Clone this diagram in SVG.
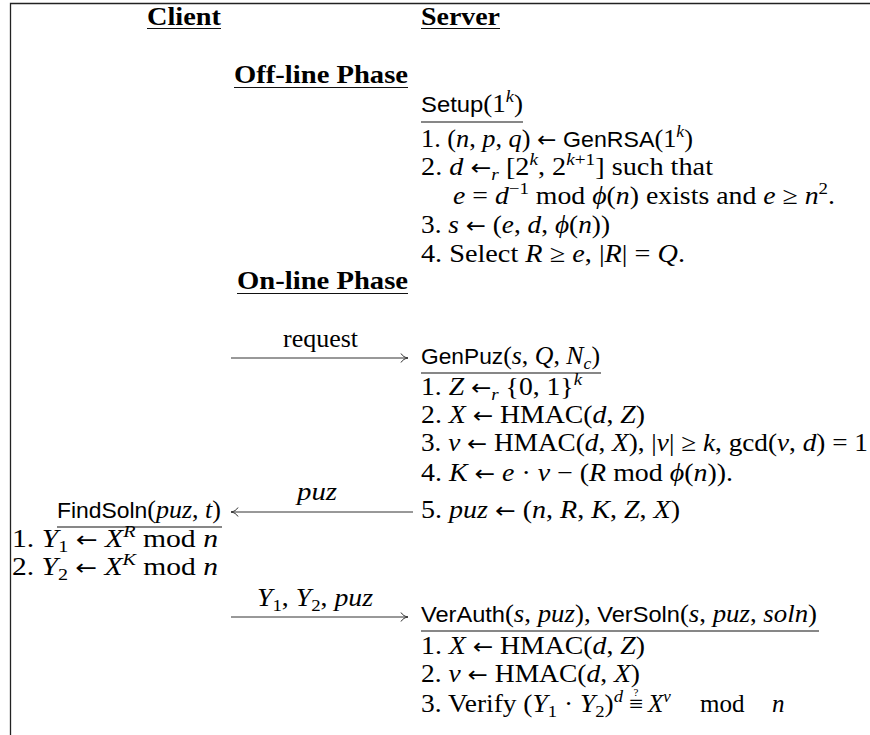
<svg xmlns="http://www.w3.org/2000/svg" width="870" height="735" viewBox="0 0 870 735">
<style>
text { font-family: "Liberation Serif", "DejaVu Serif", serif; font-size: 25px; fill: #000; }
.h { font-weight: bold; }
.i { font-style: italic; }
.sf { font-family: "Liberation Sans", "DejaVu Sans", sans-serif; font-size: 22px; font-style: normal; }
.s { font-size: 17px; }
.ar { font-family: "DejaVu Sans", sans-serif; font-size: 22px; font-style: normal; }
.ul { stroke: #111; stroke-width: 1.1; }
.frame { stroke: #222; stroke-width: 1.3; fill: none; }
.arr { stroke: #333; stroke-width: 1; fill: none; marker-end: url(#ah); }
</style>
<defs>
<marker id="ah" markerUnits="userSpaceOnUse" markerWidth="14" markerHeight="14" refX="8" refY="7" orient="auto">
<path d="M1,2.5 C2.5,5 5,6.6 8,7 C5,7.4 2.5,9 1,11.5" fill="none" stroke="#333" stroke-width="1"/>
</marker>
</defs>
<rect x="0" y="0" width="870" height="735" fill="#fff"/>
<path class="frame" d="M10.5,735 V3.5 H870"/>

<g id="client-header">
<text class="h" x="147" y="25" textLength="74" lengthAdjust="spacingAndGlyphs">Client</text>
<line class="ul" x1="147" y1="28.5" x2="221" y2="28.5"/>
</g>
<g id="server-header">
<text class="h" x="421" y="25" textLength="79" lengthAdjust="spacingAndGlyphs">Server</text>
<line class="ul" x1="421" y1="28.5" x2="500" y2="28.5"/>
</g>
<g id="offline-phase">
<text class="h" x="234" y="83" textLength="174" lengthAdjust="spacingAndGlyphs">Off-line Phase</text>
<line class="ul" x1="234" y1="87.5" x2="408" y2="87.5"/>
</g>

<g id="setup">
<text x="421" y="112" textLength="102" lengthAdjust="spacingAndGlyphs"><tspan class="sf">Setup</tspan>(1<tspan class="s i" dy="-10">k</tspan><tspan dy="10">)</tspan></text>
<line class="ul" x1="421" y1="122" x2="523" y2="122"/>
<text x="421" y="147" textLength="272" lengthAdjust="spacingAndGlyphs">1. (<tspan class="i">n</tspan>, <tspan class="i">p</tspan>, <tspan class="i">q</tspan>) <tspan class="ar">←</tspan> <tspan class="sf">GenRSA</tspan>(1<tspan class="s i" dy="-10">k</tspan><tspan dy="10">)</tspan></text>
<text x="421" y="175" textLength="292" lengthAdjust="spacingAndGlyphs">2. <tspan class="i">d</tspan> <tspan class="ar">←</tspan><tspan class="s i" dy="5">r</tspan><tspan dy="-5"> [2</tspan><tspan class="s i" dy="-10">k</tspan><tspan dy="10">, 2</tspan><tspan class="s i" dy="-10">k</tspan><tspan class="s">+1</tspan><tspan dy="10">] such that</tspan></text>
<text x="453" y="204" textLength="382" lengthAdjust="spacingAndGlyphs"><tspan class="i">e</tspan> = <tspan class="i">d</tspan><tspan class="s" dy="-10">−1</tspan><tspan dy="10"> mod </tspan><tspan class="i">ϕ</tspan>(<tspan class="i">n</tspan>) exists and <tspan class="i">e</tspan> ≥ <tspan class="i">n</tspan><tspan class="s" dy="-10">2</tspan><tspan dy="10">.</tspan></text>
<text x="421" y="233" textLength="189" lengthAdjust="spacingAndGlyphs">3. <tspan class="i">s</tspan> <tspan class="ar">←</tspan> (<tspan class="i">e</tspan>, <tspan class="i">d</tspan>, <tspan class="i">ϕ</tspan>(<tspan class="i">n</tspan>))</text>
<text x="421" y="262" textLength="264" lengthAdjust="spacingAndGlyphs">4. Select <tspan class="i">R</tspan> ≥ <tspan class="i">e</tspan>, |<tspan class="i">R</tspan>| = <tspan class="i">Q</tspan>.</text>
</g>

<g id="online-phase">
<text class="h" x="237" y="289" textLength="171" lengthAdjust="spacingAndGlyphs">On-line Phase</text>
<line class="ul" x1="237" y1="293.5" x2="408" y2="293.5"/>
</g>

<g id="genpuz">
<text x="421" y="364" textLength="179" lengthAdjust="spacingAndGlyphs"><tspan class="sf">GenPuz</tspan>(<tspan class="i">s</tspan>, <tspan class="i">Q</tspan>, <tspan class="i">N</tspan><tspan class="s i" dy="5">c</tspan><tspan dy="-5">)</tspan></text>
<line class="ul" x1="421" y1="373" x2="601" y2="373"/>
<text x="421" y="395" textLength="161" lengthAdjust="spacingAndGlyphs">1. <tspan class="i">Z</tspan> <tspan class="ar">←</tspan><tspan class="s i" dy="5">r</tspan><tspan dy="-5"> {0, 1}</tspan><tspan class="s i" dy="-10">k</tspan></text>
<text x="421" y="423" textLength="224" lengthAdjust="spacingAndGlyphs">2. <tspan class="i">X</tspan> <tspan class="ar">←</tspan> HMAC(<tspan class="i">d</tspan>, <tspan class="i">Z</tspan>)</text>
<text x="421" y="451" textLength="447" lengthAdjust="spacingAndGlyphs">3. <tspan class="i">v</tspan> <tspan class="ar">←</tspan> HMAC(<tspan class="i">d</tspan>, <tspan class="i">X</tspan>), |<tspan class="i">v</tspan>| ≥ <tspan class="i">k</tspan>, gcd(<tspan class="i">v</tspan>, <tspan class="i">d</tspan>) = 1</text>
<text x="421" y="481" textLength="312" lengthAdjust="spacingAndGlyphs">4. <tspan class="i">K</tspan> <tspan class="ar">←</tspan> <tspan class="i">e</tspan> · <tspan class="i">v</tspan> − (<tspan class="i">R</tspan> mod <tspan class="i">ϕ</tspan>(<tspan class="i">n</tspan>)).</text>
<text x="421" y="518" textLength="259" lengthAdjust="spacingAndGlyphs">5. <tspan class="i">puz</tspan> <tspan class="ar">←</tspan> (<tspan class="i">n</tspan>, <tspan class="i">R</tspan>, <tspan class="i">K</tspan>, <tspan class="i">Z</tspan>, <tspan class="i">X</tspan>)</text>
</g>

<g id="findsoln">
<text x="57" y="518" textLength="164" lengthAdjust="spacingAndGlyphs"><tspan class="sf">FindSoln</tspan>(<tspan class="i">puz</tspan>, <tspan class="i">t</tspan>)</text>
<line class="ul" x1="57" y1="527" x2="222" y2="527"/>
<text x="12" y="547" textLength="206" lengthAdjust="spacingAndGlyphs">1. <tspan class="i">Y</tspan><tspan class="s" dy="5">1</tspan><tspan dy="-5"> </tspan><tspan class="ar">←</tspan> <tspan class="i">X</tspan><tspan class="s i" dy="-10">R</tspan><tspan dy="10"> mod </tspan><tspan class="i">n</tspan></text>
<text x="12" y="575" textLength="206" lengthAdjust="spacingAndGlyphs">2. <tspan class="i">Y</tspan><tspan class="s" dy="5">2</tspan><tspan dy="-5"> </tspan><tspan class="ar">←</tspan> <tspan class="i">X</tspan><tspan class="s i" dy="-10">K</tspan><tspan dy="10"> mod </tspan><tspan class="i">n</tspan></text>
</g>

<g id="verify">
<text x="421" y="622" textLength="396" lengthAdjust="spacingAndGlyphs"><tspan class="sf">VerAuth</tspan>(<tspan class="i">s</tspan>, <tspan class="i">puz</tspan>), <tspan class="sf">VerSoln</tspan>(<tspan class="i">s</tspan>, <tspan class="i">puz</tspan>, <tspan class="i">soln</tspan>)</text>
<line class="ul" x1="421" y1="631" x2="819" y2="631"/>
<text x="421" y="654" textLength="224" lengthAdjust="spacingAndGlyphs">1. <tspan class="i">X</tspan> <tspan class="ar">←</tspan> HMAC(<tspan class="i">d</tspan>, <tspan class="i">Z</tspan>)</text>
<text x="421" y="682" textLength="219" lengthAdjust="spacingAndGlyphs">2. <tspan class="i">v</tspan> <tspan class="ar">←</tspan> HMAC(<tspan class="i">d</tspan>, <tspan class="i">X</tspan>)</text>
<text x="421" y="712" textLength="202" lengthAdjust="spacingAndGlyphs">3. Verify (<tspan class="i">Y</tspan><tspan class="s" dy="5">1</tspan><tspan dy="-5"> · </tspan><tspan class="i">Y</tspan><tspan class="s" dy="5">2</tspan><tspan dy="-5">)</tspan><tspan class="s i" dy="-10">d</tspan></text>
<text x="636" y="712" text-anchor="middle">≡</text>
<text x="636" y="696" text-anchor="middle" style="font-size:11px">?</text>
<text x="648" y="712"><tspan class="i">X</tspan><tspan class="s i" dy="-10">v</tspan><tspan x="700" dy="10">mod</tspan><tspan class="i" x="772">n</tspan></text>
</g>

<g id="connectors">
<line class="arr" x1="231" y1="358" x2="408" y2="358"/>
<text x="283" y="347" textLength="75" lengthAdjust="spacingAndGlyphs">request</text>
<line class="arr" x1="413" y1="512" x2="231" y2="512"/>
<text class="i" x="297" y="500" textLength="40" lengthAdjust="spacingAndGlyphs">puz</text>
<line class="arr" x1="231" y1="617" x2="408" y2="617"/>
<text x="257" y="606" textLength="116" lengthAdjust="spacingAndGlyphs"><tspan class="i">Y</tspan><tspan class="s" dy="5">1</tspan><tspan dy="-5">, </tspan><tspan class="i">Y</tspan><tspan class="s" dy="5">2</tspan><tspan dy="-5">, </tspan><tspan class="i">puz</tspan></text>
</g>
</svg>
